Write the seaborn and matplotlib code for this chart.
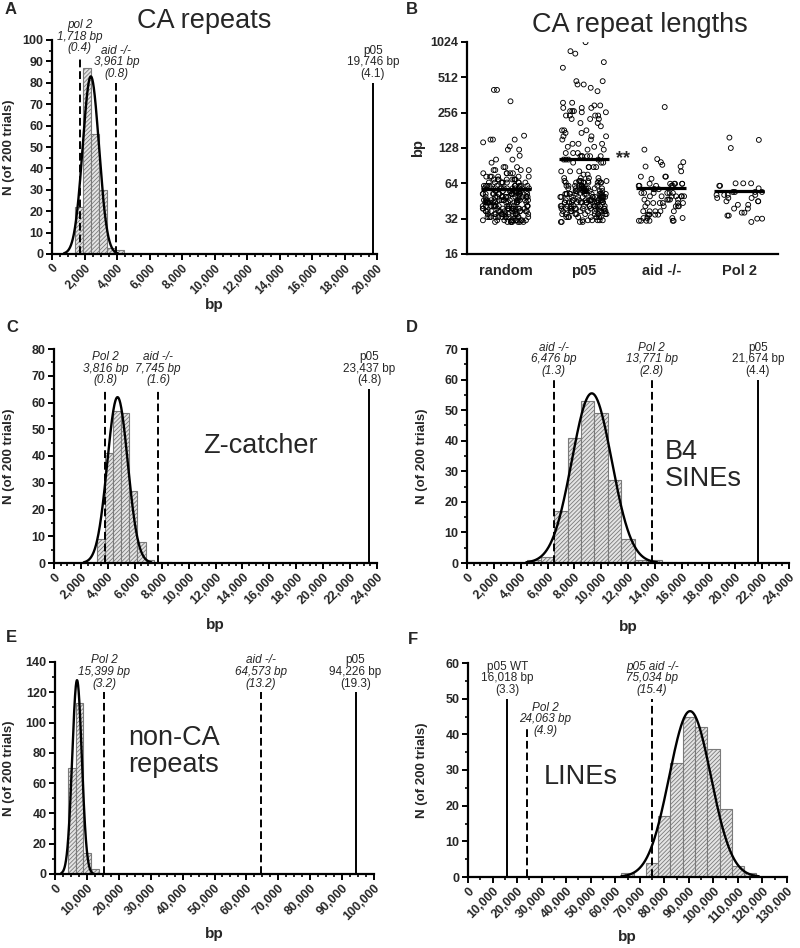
import numpy as np
import pandas as pd
import matplotlib
matplotlib.use("Agg")
import matplotlib.pyplot as plt
import seaborn as sns
from matplotlib.ticker import MultipleLocator, StrMethodFormatter, FixedLocator, NullLocator

sns.set_theme(style="ticks")
plt.rcParams['font.family'] = ['Liberation Sans', 'DejaVu Sans']
plt.rcParams['hatch.linewidth'] = 0.6

# ---------------- histogram panels (bin edges, counts, gaussian fit peak/centre/sd)
a_edges = [1400, 1900, 2400, 2900, 3400, 3900, 4400]
a_counts = [22, 87, 56, 30, 3, 2]
a_fit = [83, 2390, 500]
a_mark_x = [1718, 3961, 19746]
a_mark_top = [92, 80, 80]
a_mark_txt = ["pol 2\n1,718 bp\n(0.4)", "aid -/-\n3,961 bp\n(0.8)", "p05\n19,746 bp\n(4.1)"]
a_mark_mut = [True, True, False]

c_edges = [3200, 3800, 4400, 5000, 5600, 6200, 6800, 7400]
c_counts = [9, 41, 57, 56, 27, 8, 1]
c_fit = [62, 4720, 760]
c_mark_x = [3816, 7745, 23437]
c_mark_top = [65, 65, 65]
c_mark_txt = ["Pol 2\n3,816 bp\n(0.8)", "aid -/-\n7,745 bp\n(1.6)", "p05\n23,437 bp\n(4.8)"]
c_mark_mut = [True, True, False]

d_edges = [4500, 5500, 6500, 7500, 8500, 9500, 10500, 11500, 12500, 13500, 14500]
d_counts = [1, 2, 17, 41, 53, 49, 27, 8, 1, 1]
d_fit = [55.5, 9300, 1480]
d_mark_x = [6476, 13771, 21674]
d_mark_top = [60, 60, 60]
d_mark_txt = ["aid -/-\n6,476 bp\n(1.3)", "Pol 2\n13,771 bp\n(2.8)", "p05\n21,674 bp\n(4.4)"]
d_mark_mut = [True, True, False]

e_edges = [4100, 6500, 8900, 11300, 13700]
e_counts = [70, 113, 14, 3]
e_fit = [128, 6900, 1500]
e_mark_x = [15399, 64573, 94226]
e_mark_top = [120, 120, 120]
e_mark_txt = ["Pol 2\n15,399 bp\n(3.2)", "aid -/-\n64,573 bp\n(13.2)", "p05\n94,226 bp\n(19.3)"]
e_mark_mut = [True, True, False]

f_edges = [62500, 67500, 72500, 77500, 82500, 87500, 92500, 97500, 102500, 107500, 112500, 117500]
f_counts = [1, 0, 4, 17, 32, 45, 42, 36, 19, 3, 1]
f_fit = [46.5, 90500, 8500]
f_mark_x = [16018, 24063, 75034]
f_mark_top = [50, 42, 50]
f_mark_txt = ["p05 WT\n16,018 bp\n(3.3)", "Pol 2\n24,063 bp\n(4.9)", "p05 aid -/-\n75,034 bp\n(15.4)"]
f_mark_mut = [False, True, True]

# ---------------- panel B: CA repeat lengths (value, how many dots at that level)
groups = ["random", "p05", "aid -/-", "Pol 2"]
random_lv = [400, 320, 163, 151, 143, 132, 124, 110, 102, 96, 88, 83, 78, 73, 69, 65,
             61, 58, 55, 52, 49, 46, 44, 41, 39, 37, 35, 33, 31, 30]
random_n = [2, 1, 1, 3, 1, 1, 2, 1, 2, 1, 3, 4, 5, 6, 8, 9,
            11, 12, 13, 14, 15, 15, 15, 14, 14, 13, 13, 12, 11, 8]
p05_lv = [1020, 855, 815, 690, 618, 475, 445, 417, 390, 311, 295, 281, 264, 258, 242,
          226, 209, 196, 181, 172, 161, 151, 139, 131, 124, 116, 109, 102, 96, 88, 81,
          76, 71, 67, 65, 61, 58, 55, 52, 49, 46, 44, 41, 39, 37, 35, 33, 31, 30]
p05_n = [1, 1, 1, 1, 1, 2, 2, 1, 1, 2, 2, 3, 3, 2, 4,
         3, 2, 1, 3, 2, 3, 2, 3, 2, 2, 3, 6, 4, 3, 4, 3,
         2, 4, 7, 8, 9, 10, 12, 13, 14, 14, 14, 13, 12, 11, 10, 8, 6, 4]
aid_lv = [286, 124, 103, 97, 92, 89, 81, 73, 70, 63.5, 61, 57, 53, 49.6, 46.5, 43.5,
          40.8, 37, 34.6, 32.4, 30.7]
aid_n = [1, 1, 1, 2, 1, 2, 1, 3, 1, 6, 5, 3, 6, 7, 5, 6, 5, 5, 5, 4, 6]
pol2_lv = [157, 150, 128, 64, 61, 58, 54, 51, 48, 45, 42, 39, 36, 34, 32, 30]
pol2_n = [1, 1, 1, 3, 2, 1, 4, 4, 3, 3, 2, 2, 2, 2, 2, 1]
group_means = [57.5, 103, 58, 55]

dots = pd.DataFrame({
    "group": np.concatenate([np.repeat(g, sum(n)) for g, n in
                             zip(groups, [random_n, p05_n, aid_n, pol2_n])]),
    "bp": np.concatenate([np.repeat(lv, n) for lv, n in
                          [(random_lv, random_n), (p05_lv, p05_n), (aid_lv, aid_n), (pol2_lv, pol2_n)]]),
})

W, H = 800, 948
fig = plt.figure(figsize=(W / 100, H / 100), dpi=100)


def px_axes(l, t, r, b):
    return fig.add_axes([l / W, 1 - b / H, (r - l) / W, (b - t) / H])


def style_axis(ax, size=9):
    for s in ["top", "right"]:
        ax.spines[s].set_visible(False)
    for s in ["left", "bottom"]:
        ax.spines[s].set_linewidth(1.6)
        ax.spines[s].set_color("black")
    ax.tick_params(which="major", length=4, width=1.4, color="black", labelsize=size, pad=2)
    ax.tick_params(which="minor", length=2.5, width=1.2, color="black")
    for lab in ax.get_xticklabels() + ax.get_yticklabels():
        lab.set_fontweight("bold")


def hist_panel(ax, edges, counts, fit, mx, mtop, mtxt, mmut, xmax, xmaj, xmin, ymax, ymaj, ymin,
               ylab_px, xlab_gap, xsize=9, offsets=None):
    centers = [(l + r) / 2 for l, r in zip(edges[:-1], edges[1:])]
    sns.histplot(x=centers, weights=counts, bins=edges, ax=ax, color="#e4e4e4",
                 edgecolor="#7a7a7a", linewidth=0.8, alpha=1)
    for p in ax.patches:
        p.set_hatch("////////")
    peak, mu, sd = fit
    xs = np.linspace(mu - 3.3 * sd, mu + 3.3 * sd, 300)
    sns.lineplot(x=xs, y=peak * np.exp(-0.5 * ((xs - mu) / sd) ** 2), ax=ax,
                 color="black", linewidth=1.7)
    offsets = offsets or [(0, 2)] * len(mx)
    for x, top, txt, mut, off in zip(mx, mtop, mtxt, mmut, offsets):
        ax.vlines(x, 0, top, colors="black", linewidth=1.4,
                  linestyles=(0, (4, 2)) if mut else "solid")
        ax.annotate(txt, (x, top), xytext=off, textcoords="offset points",
                    ha="center", va="bottom", fontsize=8.5, linespacing=0.95,
                    style="italic" if mut else "normal", annotation_clip=False)
    ax.set_xlim(0, xmax)
    ax.set_ylim(0, ymax)
    ax.xaxis.set_major_locator(MultipleLocator(xmaj))
    ax.xaxis.set_minor_locator(MultipleLocator(xmin))
    ax.yaxis.set_major_locator(MultipleLocator(ymaj))
    ax.yaxis.set_minor_locator(MultipleLocator(ymin))
    ax.xaxis.set_major_formatter(StrMethodFormatter("{x:,.0f}"))
    ax.set_xlabel("bp", fontsize=11, fontweight="bold")
    ax.set_ylabel("N (of 200 trials)", fontsize=9.5, fontweight="bold")
    style_axis(ax)
    ax.tick_params(axis="x", labelsize=xsize)
    for lab in ax.get_xticklabels():
        lab.set_rotation(45)
        lab.set_ha("right")
        lab.set_rotation_mode("anchor")
    pos = ax.get_position()
    wpx, hpx = pos.width * W, pos.height * H
    ax.yaxis.set_label_coords((ylab_px - pos.x0 * W) / wpx, 0.5)
    ax.xaxis.set_label_coords(0.5, -xlab_gap / hpx)


axA = px_axes(52, 40, 377, 254)
hist_panel(axA, a_edges, a_counts, a_fit, a_mark_x, a_mark_top, a_mark_txt, a_mark_mut,
           20000, 2000, 500, 100, 10, 5, 15, 44, xsize=8.5)
axC = px_axes(54, 349, 377, 563)
hist_panel(axC, c_edges, c_counts, c_fit, c_mark_x, c_mark_top, c_mark_txt, c_mark_mut,
           24000, 2000, 500, 80, 10, 5, 15, 55)
axC.text(11100, 43.6, "Z-catcher", fontsize=19.5, ha="left", va="center")
axD = px_axes(467, 349, 789, 563)
hist_panel(axD, d_edges, d_counts, d_fit, d_mark_x, d_mark_top, d_mark_txt, d_mark_mut,
           24000, 2000, 500, 70, 10, 5, 428, 57)
axD.text(14750, 32, "B4\nSINEs", fontsize=19.5, ha="left", va="center", linespacing=1.05)
axE = px_axes(55, 662, 374, 874)
hist_panel(axE, e_edges, e_counts, e_fit, e_mark_x, e_mark_top, e_mark_txt, e_mark_mut,
           100000, 10000, 2500, 140, 20, 10, 15, 53)
axE.text(23000, 81, "non-CA\nrepeats", fontsize=19.5, ha="left", va="center", linespacing=1.05)
axF = px_axes(468, 663, 787, 877)
hist_panel(axF, f_edges, f_counts, f_fit, f_mark_x, f_mark_top, f_mark_txt, f_mark_mut,
           130000, 10000, 5000, 60, 10, 5, 428, 53,
           offsets=[(0, 2), (13, -7), (0, 2)])
axF.text(30800, 28, "LINEs", fontsize=19.5, ha="left", va="center")

# ---------------- panel B
axB = px_axes(467, 42, 778, 254)
sns.stripplot(data=dots, x="group", y="bp", order=groups, ax=axB, jitter=0.3,
              color="black", facecolor="none", edgecolor="black", linewidth=0.65, size=3.5)
axB.hlines(group_means, np.arange(4) - 0.32, np.arange(4) + 0.32, colors="black", linewidth=2.3)
axB.text(1.42, group_means[1], "**", fontsize=13, fontweight="bold", ha="left", va="center")
axB.set_yscale("log", base=2)
axB.set_ylim(16, 1024)
axB.set_xlim(-0.5, 3.5)
axB.yaxis.set_major_locator(FixedLocator([16, 32, 64, 128, 256, 512, 1024]))
axB.yaxis.set_major_formatter(StrMethodFormatter("{x:.0f}"))
axB.yaxis.set_minor_locator(NullLocator())
axB.set_xlabel("")
axB.set_ylabel("bp", fontsize=10.5, fontweight="bold")
style_axis(axB, size=9)
axB.tick_params(axis="x", length=0, labelsize=10.5, pad=7)
axB.yaxis.set_label_coords((425 - 467) / 311, 0.5)

# ---------------- titles and panel letters
fig.text(204 / W, 1 - 21 / H, "CA repeats", fontsize=19.5, ha="center", va="center")
fig.text(640 / W, 1 - 25 / H, "CA repeat lengths", fontsize=19.5, ha="center", va="center")
for letter, (x, y) in zip("ABCDEF", [(5, 10), (406, 9), (6, 328), (406, 327), (6, 638), (408, 640)]):
    fig.text(x / W, 1 - y / H, letter, fontsize=12, fontweight="bold", ha="left", va="center")

fig.savefig("out.png", dpi=100)
